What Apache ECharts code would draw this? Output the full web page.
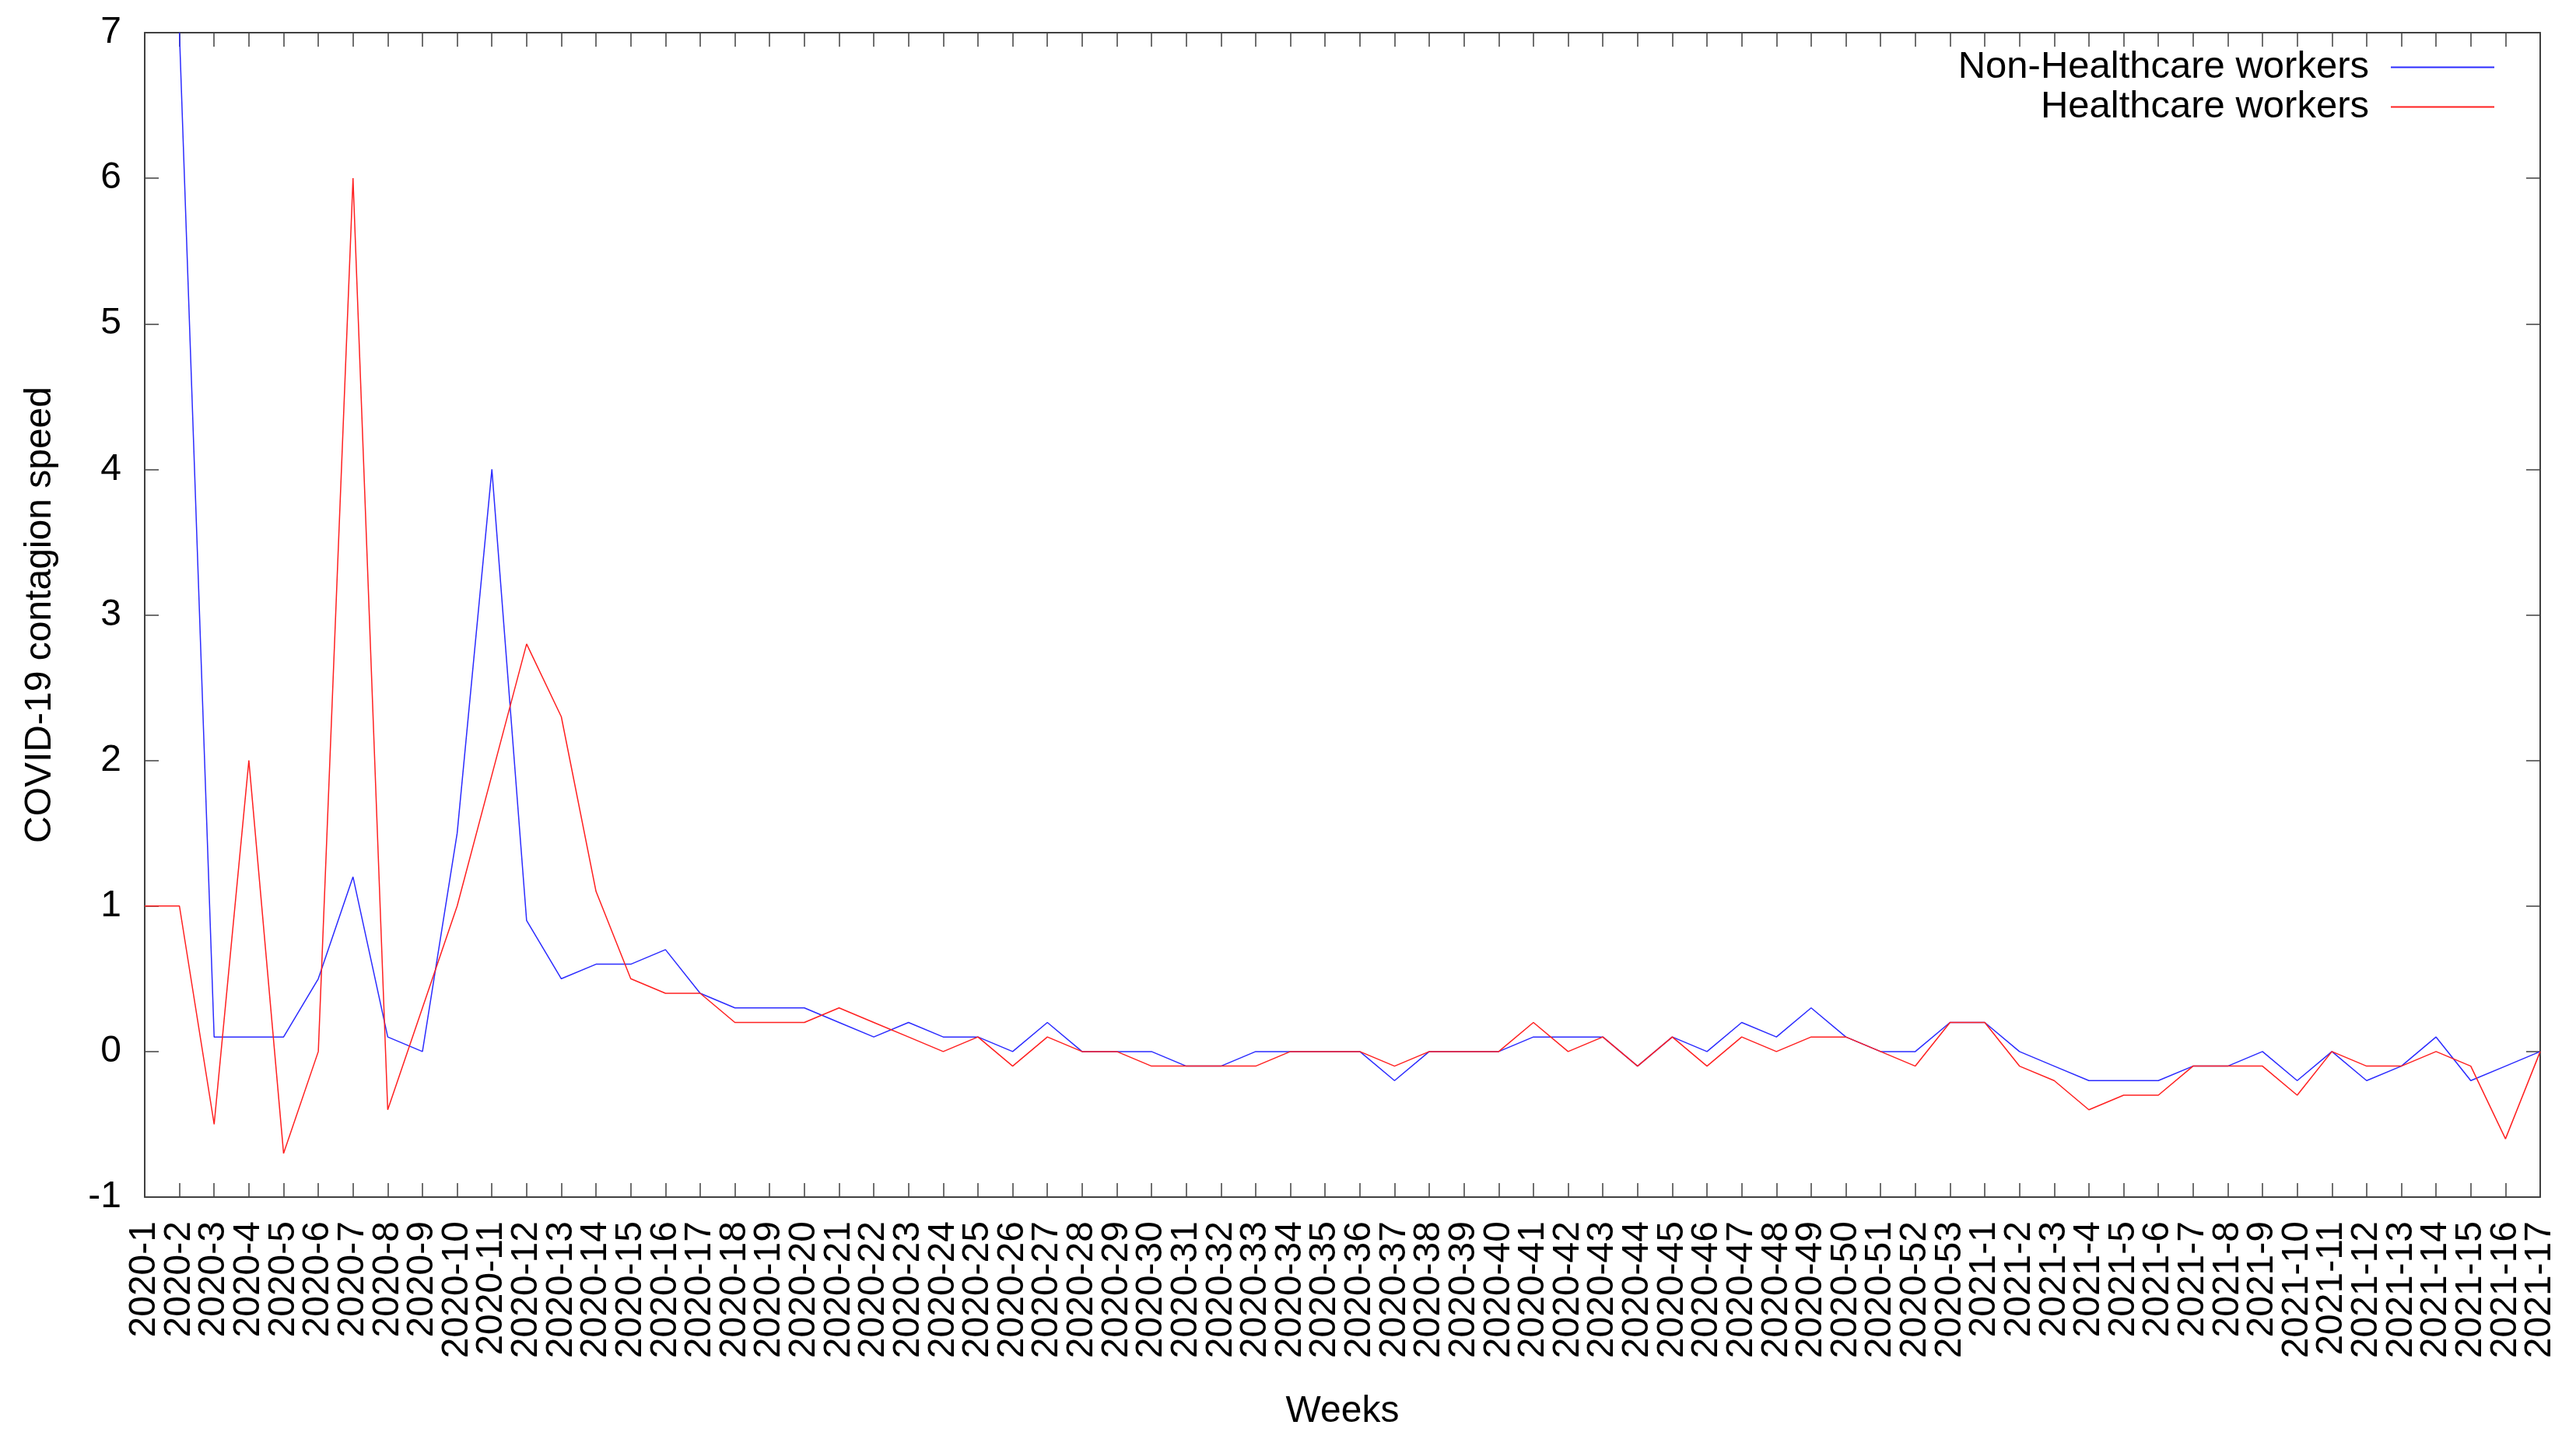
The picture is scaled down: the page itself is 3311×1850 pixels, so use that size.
<!DOCTYPE html>
<html>
<head>
<meta charset="utf-8">
<title>COVID-19 contagion speed</title>
<script src="https://cdn.jsdelivr.net/npm/echarts@6/dist/echarts.min.js"></script>
<style>
  html, body { margin: 0; padding: 0; background: #fff; }
  #chart { width: 3311px; height: 1850px; }
</style>
</head>
<body>
<div id="chart"></div>
<script>
// weeks on the x axis
const weeks = [
  '2020-1', '2020-2', '2020-3', '2020-4', '2020-5', '2020-6', '2020-7', '2020-8', '2020-9', '2020-10',
  '2020-11', '2020-12', '2020-13', '2020-14', '2020-15', '2020-16', '2020-17', '2020-18', '2020-19', '2020-20',
  '2020-21', '2020-22', '2020-23', '2020-24', '2020-25', '2020-26', '2020-27', '2020-28', '2020-29', '2020-30',
  '2020-31', '2020-32', '2020-33', '2020-34', '2020-35', '2020-36', '2020-37', '2020-38', '2020-39', '2020-40',
  '2020-41', '2020-42', '2020-43', '2020-44', '2020-45', '2020-46', '2020-47', '2020-48', '2020-49', '2020-50',
  '2020-51', '2020-52', '2020-53',
  '2021-1', '2021-2', '2021-3', '2021-4', '2021-5', '2021-6', '2021-7', '2021-8', '2021-9', '2021-10',
  '2021-11', '2021-12', '2021-13', '2021-14', '2021-15', '2021-16', '2021-17'
]

const nonHealthcare = [
  null, 7, 0.1, 0.1, 0.1, 0.5, 1.2, 0.1, 0, 1.5,
  4, 0.9, 0.5, 0.6, 0.6, 0.7, 0.4, 0.3, 0.3, 0.3,
  0.2, 0.1, 0.2, 0.1, 0.1, 0, 0.2, 0, 0, 0,
  -0.1, -0.1, 0, 0, 0, 0, -0.2, 0, 0, 0,
  0.1, 0.1, 0.1, -0.1, 0.1, 0, 0.2, 0.1, 0.3, 0.1,
  0, 0, 0.2,
  0.2, 0, -0.1, -0.2, -0.2, -0.2, -0.1, -0.1, 0, -0.2,
  0, -0.2, -0.1, 0.1, -0.2, -0.1, 0
]

const healthcare = [
  1, 1, -0.5, 2, -0.7, 0, 6, -0.4, 0.3, 1,
  1.9, 2.8, 2.3, 1.1, 0.5, 0.4, 0.4, 0.2, 0.2, 0.2,
  0.3, 0.2, 0.1, 0, 0.1, -0.1, 0.1, 0, 0, -0.1,
  -0.1, -0.1, -0.1, 0, 0, 0, -0.1, 0, 0, 0,
  0.2, 0, 0.1, -0.1, 0.1, -0.1, 0.1, 0, 0.1, 0.1,
  0, -0.1, 0.2,
  0.2, -0.1, -0.2, -0.4, -0.3, -0.3, -0.1, -0.1, -0.1, -0.3,
  0, -0.1, -0.1, 0, -0.1, -0.6, 0
]

const seriesNames = ['Non-Healthcare workers', 'Healthcare workers']
const seriesColors = ['#2b2bff', '#ff2020']

const font = 'Liberation Sans, Arial, sans-serif'
const borderColor = '#404040'

const myChart = echarts.init(document.getElementById('chart'))

// gnuplot style legend: text on the left, plain line sample on the right
function makeLegend(name, top) {
  return {
    data: [name],
    right: 105,
    top: top,
    padding: 0,
    align: 'right',
    icon: 'rect',
    itemWidth: 133,
    itemHeight: 2,
    selectedMode: false,
    textStyle: {
      fontFamily: font,
      fontSize: 49,
      color: '#000',
      padding: [0, 23, 0, 0],
    },
  }
}

const hiddenAxisBits = {
  axisLabel: { show: false },
  splitLine: { show: false },
  name: '',
}

myChart.setOption({
  animation: false,
  backgroundColor: '#fff',
  textStyle: { fontFamily: font },
  grid: {
    left: 186,
    right: 46,
    top: 42,
    bottom: 311,
    containLabel: false,
  },
  legend: [makeLegend(seriesNames[0], 62), makeLegend(seriesNames[1], 113)],
  xAxis: [
    {
      type: 'category',
      data: weeks,
      boundaryGap: false,
      position: 'bottom',
      name: 'Weeks',
      nameLocation: 'middle',
      nameGap: 252,
      nameTextStyle: { fontSize: 48, color: '#000', fontFamily: font },
      axisLine: { show: true, onZero: false, lineStyle: { color: borderColor, width: 2 } },
      axisTick: { show: true, inside: true, length: 18, interval: 0, lineStyle: { color: borderColor, width: 1.5 } },
      axisLabel: {
        interval: 0,
        rotate: 90,
        margin: 31,
        fontSize: 48,
        color: '#000',
        fontFamily: font,
        padding: [0, 0, 24, 0],
      },
      splitLine: { show: false },
    },
    {
      type: 'category',
      data: weeks,
      boundaryGap: false,
      position: 'top',
      axisLine: { show: true, onZero: false, lineStyle: { color: borderColor, width: 2 } },
      axisTick: { show: true, inside: true, length: 18, interval: 0, lineStyle: { color: borderColor, width: 1.5 } },
      ...hiddenAxisBits,
    },
  ],
  yAxis: [
    {
      type: 'value',
      min: -1,
      max: 7,
      interval: 1,
      position: 'left',
      name: 'COVID-19 contagion speed',
      nameLocation: 'middle',
      nameGap: 110,
      nameTextStyle: { fontSize: 48, color: '#000', fontFamily: font },
      axisLine: { show: true, onZero: false, lineStyle: { color: borderColor, width: 2 } },
      axisTick: { show: true, inside: true, length: 18, lineStyle: { color: borderColor, width: 1.5 } },
      axisLabel: { margin: 30, fontSize: 48, color: '#000', fontFamily: font },
      splitLine: { show: false },
    },
    {
      type: 'value',
      min: -1,
      max: 7,
      interval: 1,
      position: 'right',
      axisLine: { show: true, onZero: false, lineStyle: { color: borderColor, width: 2 } },
      axisTick: { show: true, inside: true, length: 18, lineStyle: { color: borderColor, width: 1.5 } },
      ...hiddenAxisBits,
    },
  ],
  series: [
    {
      name: seriesNames[0],
      type: 'line',
      data: nonHealthcare,
      symbol: 'none',
      color: seriesColors[0],
      lineStyle: { color: seriesColors[0], width: 1.5 },
    },
    {
      name: seriesNames[1],
      type: 'line',
      data: healthcare,
      symbol: 'none',
      color: seriesColors[1],
      lineStyle: { color: seriesColors[1], width: 1.5 },
    },
  ],
})
</script>
</body>
</html>
